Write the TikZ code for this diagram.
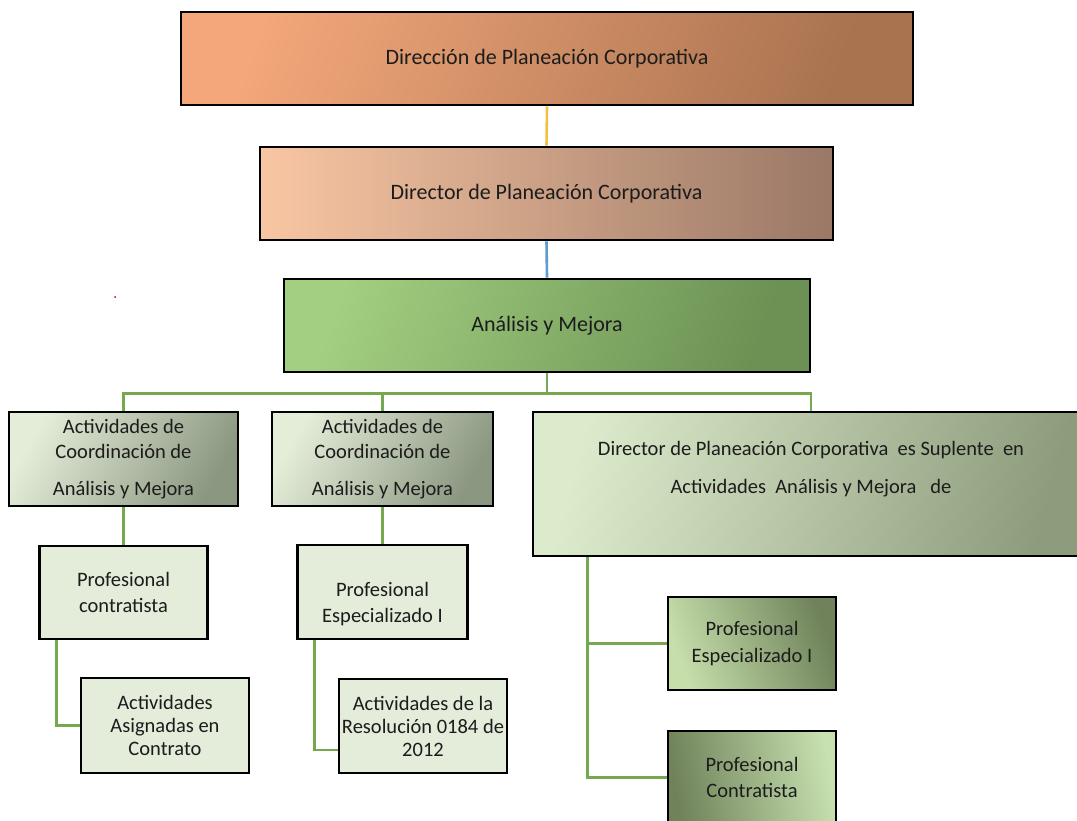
\documentclass[tikz,border=0pt]{standalone}
\usepackage{fontspec}
\setmainfont{Carlito}
\usetikzlibrary{backgrounds}
\definecolor{txt}{HTML}{1C1C1C}
\definecolor{lnk}{HTML}{76A850}
\definecolor{lnkY}{HTML}{F4C043}
\definecolor{lnkB}{HTML}{5D9BD3}
\definecolor{flat}{HTML}{E3EDDA}
\begin{document}
\begin{tikzpicture}[x=1pt,y=-1pt,
	box/.style={draw=black,line width=2.6pt,align=center,inner sep=0pt,text=txt,font=\fontsize{20.5}{25}\selectfont},
	big/.style={box,minimum height=93pt,font=\fontsize{22}{26}\selectfont},
	link/.style={line width=2.6pt,draw=lnk}]
	\clip (0,0) rectangle (1077,821);
	\node[big,minimum width=732pt,left color={rgb,255:red,243;green,167;blue,122},right color={rgb,255:red,169;green,115;blue,80},shading angle=70] (direccion) at (547,58.5) {Dirección de Planeación Corporativa};
	\node[big,minimum width=573pt,left color={rgb,255:red,249;green,198;blue,163},middle color={rgb,255:red,217;green,168;blue,140},right color={rgb,255:red,154;green,120;blue,102}] (director) at (546.5,193.5) {Director de Planeación Corporativa};
	\node[big,minimum width=526pt,left color={rgb,255:red,163;green,207;blue,128},right color={rgb,255:red,107;green,145;blue,84},shading angle=70] (analisis) at (547,325.5) {Análisis y Mejora};
	\node[box,minimum width=229pt,minimum height=94pt,left color={rgb,255:red,227;green,237;blue,216},right color={rgb,255:red,140;green,151;blue,130},shading angle=60] (coordA) at (123.5,459) {Actividades de\\Coordinación de\\[12pt]Análisis y Mejora};
	\node[box,minimum width=221pt,minimum height=94pt,left color={rgb,255:red,227;green,237;blue,216},right color={rgb,255:red,140;green,151;blue,130},shading angle=60] (coordB) at (382.5,459) {Actividades de\\Coordinación de\\[12pt]Análisis y Mejora};
	\node[box,minimum width=556pt,minimum height=144pt,left color={rgb,255:red,220;green,235;blue,203},right color={rgb,255:red,142;green,156;blue,126},shading angle=75,font=\fontsize{20.5}{38}\selectfont] (suplente) at (811,484) {Director de Planeación Corporativa \ es Suplente \ en\\Actividades \ Análisis y Mejora \ \ de\\[-4pt]\mbox{}};
	\node[box,minimum width=168pt,minimum height=93pt,fill=flat,font=\fontsize{20.5}{26}\selectfont] (profC) at (123.5,592.5) {Profesional\\contratista};
	\node[box,minimum width=170pt,minimum height=94pt,fill=flat,font=\fontsize{20.5}{26}\selectfont] (profE) at (382.5,592) {\mbox{}\\[12pt]Profesional\\Especializado I};
	\node[box,minimum width=168pt,minimum height=95pt,fill=flat,font=\fontsize{20.5}{23}\selectfont] (actA) at (165,725.5) {Actividades\\Asignadas en\\Contrato};
	\node[box,minimum width=168pt,minimum height=94pt,fill=flat,font=\fontsize{20.5}{23}\selectfont] (actR) at (423,726) {Actividades de la\\Resolución 0184 de\\2012};
	\node[box,minimum width=168pt,minimum height=93pt,left color={rgb,255:red,197;green,222;blue,170},right color={rgb,255:red,111;green,130;blue,90},shading angle=110,font=\fontsize{20.5}{27}\selectfont] (supPE) at (752,643.5) {Profesional\\Especializado I};
	\node[box,minimum width=168pt,minimum height=93pt,left color={rgb,255:red,111;green,130;blue,90},right color={rgb,255:red,200;green,225;blue,176},shading angle=100,font=\fontsize{20.5}{26}\selectfont] (supPC) at (752,777.5) {Profesional\\Contratista};
	\fill[red!80!black] (115,297) circle (1pt);
	\begin{scope}[on background layer]
	\fill[white] (0,0) rectangle (1077,821);
	\coordinate (bus) at ([yshift=-20pt]analisis.south);
	\draw[link,draw=lnkY] (direccion.south) -- (director.north);
	\draw[link,draw=lnkB] (director.south) -- (analisis.north);
	\draw[link] (analisis.south) -- (bus);
	\draw[link] (coordA.north) |- (bus) -| (suplente.north);
	\draw[link] (bus -| coordB.north) -- (coordB.north);
	\draw[link] (coordA.south) -- (profC.north);
	\draw[link] (coordB.south) -- (profE.north);
	\draw[link] ([xshift=18pt]profC.south west) |- (actA.west);
	\draw[link] ([xshift=18pt]profE.south west) |- ([yshift=-24pt]actR.west);
	\draw[link] ([xshift=56pt]suplente.south west) |- (supPC.west);
	\draw[link] ([xshift=56pt]suplente.south west) |- (supPE.west);
	\end{scope}
\end{tikzpicture}
\end{document}
